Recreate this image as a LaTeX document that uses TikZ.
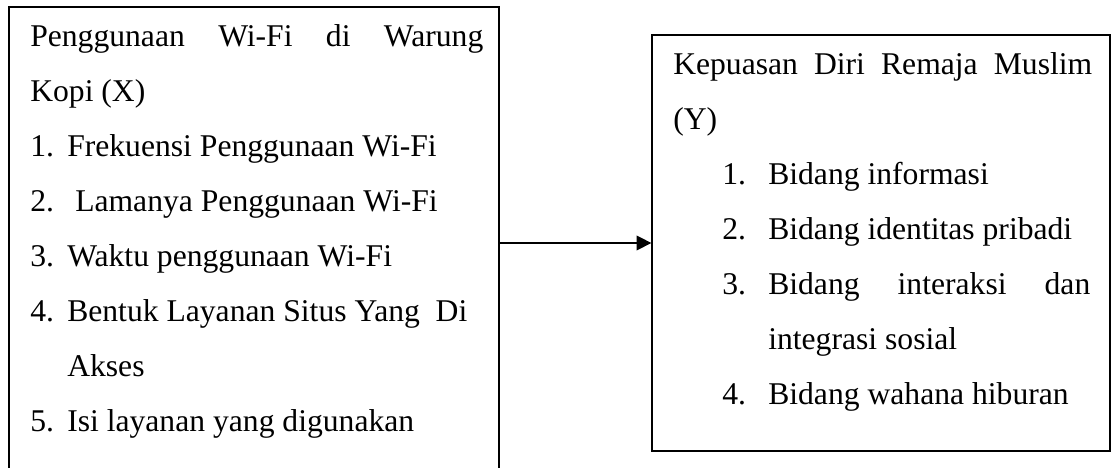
\documentclass[tikz,border=0pt]{standalone}
\usepackage{fontspec}
\setmainfont{Liberation Serif}
\usetikzlibrary{arrows.meta}

\begin{document}
\begin{tikzpicture}[font=\fontsize{22.5}{39}\selectfont,
   box/.style={draw,line width=0.9pt,inner sep=0pt},
   line/.style={anchor=base west,inner sep=0pt}]
  \def\xl{0.75}
  \def\yl{16.825}
  \useasboundingbox (0,0) rectangle (27.8,11.7);
  % left box runs past the lower edge, both boxes centred on y=5.625

  % ---- variable X ----
  \node[box,minimum width=12.25cm,minimum height=11.8cm] (xbox) at (6.35,5.625) {};
  \node[line] (xtitle) at (\xl,10.525) {\makebox[11.325cm][s]{Penggunaan Wi-Fi di Warung}};
  \node[line] (xtitleb) at (\xl,9.15) {Kopi (X)};
  \node[line] (x1) at (\xl,7.775) {\makebox[0.925cm][l]{1.}Frekuensi Penggunaan Wi-Fi};
  \node[line] (x2) at (\xl,6.4) {\makebox[1.125cm][l]{2.}Lamanya Penggunaan Wi-Fi};
  \node[line] (x3) at (\xl,5.025) {\makebox[0.925cm][l]{3.}Waktu penggunaan Wi-Fi};
  \node[line] (x4) at (\xl,3.65) {\makebox[0.925cm][l]{4.}Bentuk Layanan Situs Yang~ Di};
  \node[line] (x4b) at (1.675,2.275) {Akses};
  \node[line] (x5) at (\xl,0.9) {\makebox[0.925cm][l]{5.}Isi layanan yang digunakan};

  % ---- variable Y ----
  \node[box,minimum width=11.45cm,minimum height=10.4cm] (ybox) at (22.025,5.625) {};
  \node[line] (ytitle) at (\yl,9.825) {\makebox[10.475cm][s]{Kepuasan Diri Remaja Muslim}};
  \node[line] (ytitleb) at (\yl,8.45) {(Y)};
  \node[line] (y1) at (18.05,7.075) {\makebox[1.15cm][l]{1.}Bidang informasi};
  \node[line] (y2) at (18.05,5.7) {\makebox[1.15cm][l]{2.}Bidang identitas pribadi};
  \node[line] (y3) at (18.05,4.325) {\makebox[1.15cm][l]{3.}\makebox[8.05cm][s]{Bidang interaksi dan}};
  \node[line] (y3b) at (19.2,2.95) {integrasi sosial};
  \node[line] (y4) at (18.05,1.575) {\makebox[1.15cm][l]{4.}Bidang wahana hiburan};

  % ---- X -> Y ----
  \draw[-{Triangle[length=10.5pt,width=10.5pt]},line width=0.9pt] (xbox.east) -- (ybox.west);
\end{tikzpicture}
\end{document}
